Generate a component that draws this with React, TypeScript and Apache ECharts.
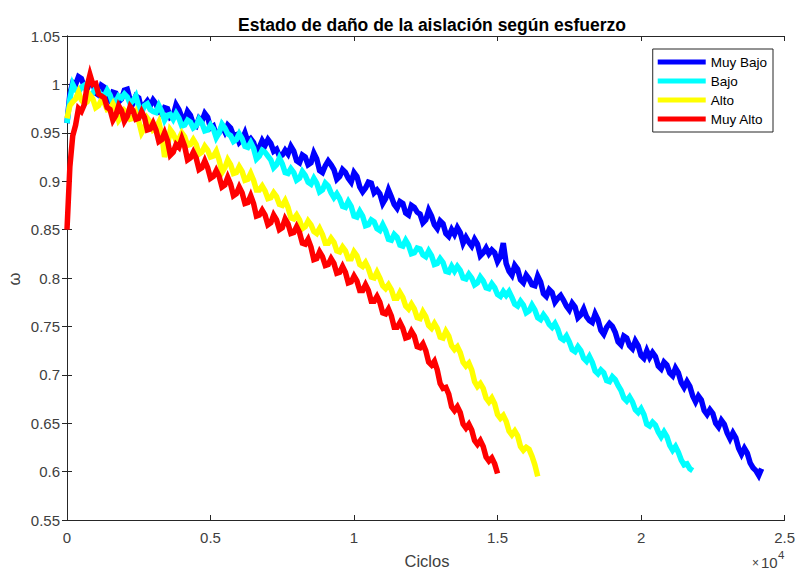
import React, { useEffect, useRef } from "react";
import * as echarts from "echarts";

// Damage state ω sampled every CYCLE_STEP cycles, one list per stress level
const CYCLE_STEP = 100;

const SERIES_NAMES = ["Muy Bajo", "Bajo", "Alto", "Muy Alto"];
const SERIES_COLORS = ["#0000FF", "#00FFFF", "#FFFF00", "#FF0000"];

const muyBajo = [
  0.96, 0.99, 1.002, 1.0, 1.008, 1.006, 0.998, 0.995, 1.003, 1.001,
  0.991, 0.989, 0.999, 0.997, 0.986, 0.983, 0.992, 0.991, 0.982, 0.985,
  0.994, 0.995, 0.984, 0.981, 0.988, 0.986, 0.974, 0.979, 0.983, 0.978,
  0.984, 0.98, 0.972, 0.969, 0.976, 0.975, 0.966, 0.968, 0.979, 0.974,
  0.966, 0.963, 0.972, 0.968, 0.959, 0.957, 0.965, 0.962, 0.97, 0.966,
  0.955, 0.957, 0.948, 0.95, 0.957, 0.951, 0.958, 0.955, 0.947, 0.948,
  0.94, 0.943, 0.95, 0.941, 0.944, 0.94, 0.931, 0.935, 0.942, 0.937,
  0.943, 0.939, 0.931, 0.933, 0.926, 0.927, 0.932, 0.928, 0.936, 0.931,
  0.921, 0.919, 0.927, 0.925, 0.917, 0.919, 0.929, 0.923, 0.911, 0.909,
  0.916, 0.921, 0.917, 0.912, 0.902, 0.905, 0.912, 0.909, 0.903, 0.899,
  0.909, 0.905, 0.894, 0.889, 0.893, 0.899, 0.898, 0.888, 0.891, 0.887,
  0.877, 0.882, 0.891, 0.884, 0.876, 0.872, 0.879, 0.877, 0.867, 0.865,
  0.875, 0.873, 0.868, 0.866, 0.857, 0.86, 0.87, 0.864, 0.855, 0.851,
  0.859, 0.856, 0.846, 0.843, 0.85, 0.845, 0.852, 0.847, 0.836, 0.842,
  0.837, 0.833, 0.84, 0.835, 0.823, 0.826, 0.831, 0.825, 0.829, 0.826,
  0.817, 0.822, 0.836, 0.815, 0.807, 0.803, 0.813, 0.809, 0.798, 0.795,
  0.803, 0.799, 0.793, 0.792, 0.802, 0.796, 0.784, 0.781, 0.788, 0.785,
  0.775, 0.779, 0.782, 0.777, 0.771, 0.767, 0.774, 0.77, 0.759, 0.762,
  0.768, 0.76, 0.756, 0.754, 0.763, 0.757, 0.746, 0.742, 0.749, 0.753,
  0.75, 0.744, 0.734, 0.731, 0.74, 0.738, 0.73, 0.727, 0.735, 0.73,
  0.72, 0.717, 0.725, 0.718, 0.723, 0.719, 0.709, 0.706, 0.713, 0.71,
  0.702, 0.699, 0.707, 0.702, 0.692, 0.687, 0.693, 0.688, 0.678, 0.672,
  0.678, 0.674, 0.663, 0.659, 0.664, 0.66, 0.65, 0.646, 0.653, 0.649,
  0.64, 0.634, 0.64, 0.635, 0.624, 0.618, 0.624, 0.619, 0.609, 0.604,
  0.601, 0.596, 0.603,
];

const bajo = [
  0.96, 0.985, 1.0, 0.994, 0.992, 0.997, 0.999, 0.992, 0.989, 0.991,
  0.996, 0.993, 0.987, 0.988, 0.994, 0.989, 0.98, 0.982, 0.988, 0.986,
  0.99, 0.987, 0.98, 0.983, 0.988, 0.977, 0.971, 0.978, 0.98, 0.974,
  0.972, 0.971, 0.978, 0.972, 0.963, 0.968, 0.969, 0.964, 0.97, 0.965,
  0.957, 0.958, 0.963, 0.961, 0.955, 0.957, 0.964, 0.96, 0.952, 0.953,
  0.958, 0.954, 0.945, 0.95, 0.959, 0.955, 0.949, 0.947, 0.941, 0.943,
  0.949, 0.944, 0.936, 0.935, 0.94, 0.934, 0.923, 0.926, 0.932, 0.93,
  0.926, 0.922, 0.914, 0.917, 0.924, 0.918, 0.909, 0.908, 0.913, 0.909,
  0.901, 0.903, 0.91, 0.906, 0.899, 0.897, 0.903, 0.898, 0.889, 0.891,
  0.898, 0.895, 0.888, 0.883, 0.887, 0.882, 0.874, 0.873, 0.879, 0.874,
  0.864, 0.863, 0.869, 0.864, 0.854, 0.855, 0.86, 0.858, 0.851, 0.849,
  0.855, 0.849, 0.84, 0.839, 0.845, 0.842, 0.834, 0.833, 0.839, 0.834,
  0.825, 0.826, 0.831, 0.83, 0.824, 0.822, 0.828, 0.823, 0.814, 0.815,
  0.82, 0.816, 0.807, 0.806, 0.812, 0.807, 0.812, 0.808, 0.8, 0.799,
  0.804, 0.8, 0.793, 0.795, 0.801, 0.797, 0.79, 0.789, 0.794, 0.79,
  0.783, 0.781, 0.786, 0.782, 0.786, 0.78, 0.773, 0.771, 0.776, 0.772,
  0.764, 0.766, 0.772, 0.767, 0.759, 0.757, 0.762, 0.758, 0.752, 0.749,
  0.753, 0.747, 0.738, 0.736, 0.74, 0.734, 0.726, 0.724, 0.729, 0.725,
  0.717, 0.714, 0.719, 0.713, 0.704, 0.701, 0.705, 0.702, 0.694, 0.693,
  0.698, 0.695, 0.689, 0.684, 0.676, 0.673, 0.677, 0.672, 0.664, 0.661,
  0.665, 0.659, 0.649, 0.647, 0.651, 0.648, 0.641, 0.636, 0.641, 0.636,
  0.627, 0.622, 0.626, 0.62, 0.612, 0.607, 0.608, 0.603, 0.601,
];

const alto = [
  0.965, 0.978, 0.982, 0.985, 0.992, 0.984, 0.98, 0.982, 0.989, 0.985,
  0.976, 0.978, 0.984, 0.981, 0.974, 0.975, 0.98, 0.974, 0.963, 0.967,
  0.973, 0.97, 0.964, 0.965, 0.971, 0.962, 0.95, 0.955, 0.965, 0.961,
  0.953, 0.955, 0.961, 0.948, 0.925, 0.936, 0.953, 0.949, 0.942, 0.944,
  0.95, 0.946, 0.937, 0.938, 0.943, 0.938, 0.928, 0.93, 0.936, 0.932,
  0.925, 0.926, 0.931, 0.922, 0.909, 0.914, 0.922, 0.917, 0.908, 0.909,
  0.915, 0.91, 0.901, 0.902, 0.908, 0.901, 0.891, 0.891, 0.895, 0.89,
  0.882, 0.883, 0.888, 0.884, 0.876, 0.875, 0.88, 0.873, 0.862, 0.861,
  0.865, 0.86, 0.851, 0.853, 0.859, 0.855, 0.848, 0.846, 0.851, 0.845,
  0.836, 0.836, 0.841, 0.837, 0.828, 0.827, 0.832, 0.828, 0.82, 0.82,
  0.827, 0.823, 0.814, 0.812, 0.816, 0.81, 0.801, 0.8, 0.806, 0.8,
  0.792, 0.789, 0.793, 0.788, 0.779, 0.779, 0.785, 0.78, 0.771, 0.768,
  0.773, 0.768, 0.759, 0.758, 0.765, 0.76, 0.751, 0.748, 0.753, 0.748,
  0.739, 0.738, 0.745, 0.74, 0.73, 0.726, 0.729, 0.723, 0.713, 0.709,
  0.712, 0.705, 0.693, 0.688, 0.691, 0.686, 0.676, 0.672, 0.676, 0.67,
  0.659, 0.655, 0.658, 0.652, 0.642, 0.638, 0.642, 0.637, 0.626, 0.622,
  0.625, 0.623, 0.616, 0.607, 0.595,
];

const muyAlto = [
  0.85, 0.915, 0.947, 0.958, 0.975, 0.972, 0.979, 0.998, 1.01, 1.0,
  1.001, 0.99, 0.988, 0.986, 0.976, 0.974, 0.963, 0.968, 0.978, 0.973,
  0.962, 0.967, 0.977, 0.973, 0.964, 0.965, 0.972, 0.966, 0.953, 0.954,
  0.96, 0.953, 0.941, 0.943, 0.95, 0.942, 0.927, 0.93, 0.938, 0.935,
  0.944, 0.936, 0.922, 0.924, 0.93, 0.924, 0.912, 0.914, 0.921, 0.914,
  0.903, 0.905, 0.911, 0.905, 0.894, 0.896, 0.904, 0.897, 0.885, 0.887,
  0.894, 0.888, 0.877, 0.878, 0.885, 0.877, 0.864, 0.865, 0.87, 0.865,
  0.855, 0.857, 0.865, 0.86, 0.85, 0.852, 0.861, 0.856, 0.846, 0.847,
  0.853, 0.847, 0.836, 0.835, 0.84, 0.832, 0.819, 0.82, 0.827, 0.822,
  0.813, 0.814, 0.82, 0.815, 0.805, 0.806, 0.812, 0.806, 0.795, 0.796,
  0.802, 0.797, 0.787, 0.787, 0.793, 0.787, 0.776, 0.776, 0.781, 0.775,
  0.764, 0.763, 0.768, 0.761, 0.749, 0.749, 0.754, 0.748, 0.738, 0.739,
  0.745, 0.74, 0.729, 0.728, 0.732, 0.725, 0.713, 0.71, 0.714, 0.705,
  0.691, 0.686, 0.687, 0.68, 0.667, 0.663, 0.667, 0.661, 0.649, 0.645,
  0.649, 0.643, 0.632, 0.628, 0.632, 0.626, 0.615, 0.611, 0.614, 0.608,
  0.598,
];

const SERIES_VALUES = [muyBajo, bajo, alto, muyAlto];

const FONT = "'Liberation Sans', Arial, Helvetica, sans-serif";
const AXIS_COLOR = "#262626";
const LABEL_COLOR = "#404040";

export default function App() {
  const ref = useRef<HTMLDivElement>(null);

  useEffect(() => {
    if (!ref.current) return;
    const chart = echarts.init(ref.current, null, { renderer: "svg" });

    const axisLine = { show: true, lineStyle: { color: AXIS_COLOR, width: 1 } };
    const axisTick = { show: true, inside: true, length: 5, lineStyle: { color: AXIS_COLOR } };

    const xCommon = {
      type: "value" as const,
      min: 0,
      max: 25000,
      interval: 5000,
      axisLine,
      axisTick,
      splitLine: { show: false },
    };
    const yCommon = {
      type: "value" as const,
      min: 0.55,
      max: 1.05,
      interval: 0.05,
      axisLine,
      axisTick,
      splitLine: { show: false },
    };

    chart.setOption({
      animation: false,
      backgroundColor: "#ffffff",
      textStyle: { fontFamily: FONT },
      title: {
        text: "Estado de daño de la aislación según esfuerzo",
        left: 427,
        top: 11,
        textAlign: "center",
        textStyle: { fontFamily: FONT, fontSize: 17.5, fontWeight: "bold", color: "#000" },
      },
      grid: { left: 67, right: 11, top: 36, bottom: 51 },
      xAxis: [
        {
          ...xCommon,
          position: "bottom",
          axisLabel: {
            color: LABEL_COLOR,
            fontSize: 15,
            fontFamily: FONT,
            margin: 10,
            formatter: (v: number) => String(parseFloat((v / 10000).toFixed(2))),
          },
        },
        { ...xCommon, position: "top", axisLabel: { show: false } },
      ],
      yAxis: [
        {
          ...yCommon,
          position: "left",
          axisLabel: {
            color: LABEL_COLOR,
            fontSize: 15,
            fontFamily: FONT,
            margin: 7,
            formatter: (v: number) => String(parseFloat(v.toFixed(2))),
          },
        },
        { ...yCommon, position: "right", axisLabel: { show: false } },
      ],
      legend: {
        data: SERIES_NAMES,
        orient: "vertical",
        right: 25,
        top: 49,
        icon: "rect",
        itemWidth: 48,
        itemHeight: 5,
        itemGap: 5,
        padding: [6, 6, 6, 5],
        backgroundColor: "#ffffff",
        borderColor: AXIS_COLOR,
        borderWidth: 1,
        textStyle: { color: "#000", fontSize: 13.5, fontFamily: FONT, lineHeight: 14 },
      },
      series: SERIES_NAMES.map((name, s) => ({
        name,
        type: "line",
        xAxisIndex: 0,
        yAxisIndex: 0,
        showSymbol: false,
        symbol: "none",
        color: SERIES_COLORS[s],
        lineStyle: { color: SERIES_COLORS[s], width: 5.5, join: "miter" },
        data: SERIES_VALUES[s].map((v, i) => [i * CYCLE_STEP, v]),
      })),
      graphic: [
        {
          type: "text",
          x: 427,
          y: 561,
          style: { text: "Ciclos", font: `16.5px ${FONT}`, fill: LABEL_COLOR, align: "center", verticalAlign: "middle" },
        },
        {
          type: "text",
          x: 14,
          y: 279,
          rotation: Math.PI / 2,
          style: { text: "ω", font: `16.5px ${FONT}`, fill: LABEL_COLOR, align: "center", verticalAlign: "middle" },
        },
        {
          type: "text",
          x: 752,
          y: 563,
          style: { text: "×", font: `12px ${FONT}`, fill: LABEL_COLOR, align: "left", verticalAlign: "middle" },
        },
        {
          type: "text",
          x: 761,
          y: 562,
          style: { text: "10", font: `15px ${FONT}`, fill: LABEL_COLOR, align: "left", verticalAlign: "middle" },
        },
        {
          type: "text",
          x: 778,
          y: 555,
          style: { text: "4", font: `11.5px ${FONT}`, fill: LABEL_COLOR, align: "left", verticalAlign: "middle" },
        },
      ],
    });

    return () => chart.dispose();
  }, []);

  return (
    <div
      ref={ref}
      style={{ position: "fixed", left: 0, top: 0, width: 798, height: 571, background: "#fff" }}
    />
  );
}
